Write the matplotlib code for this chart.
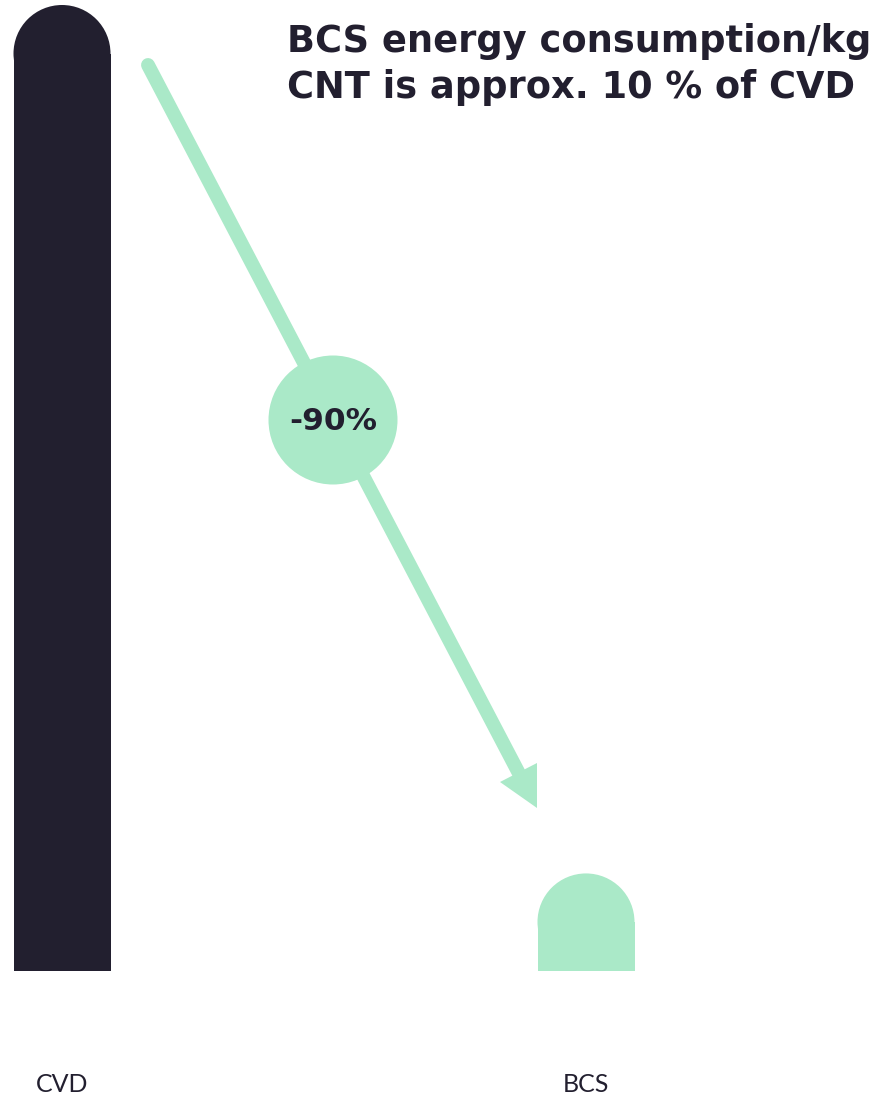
import matplotlib.pyplot as plt
from matplotlib.patches import Ellipse, Circle, Polygon

# data
categories = ["CVD", "BCS"]
values = [100, 10.1]
bar_colors = ["#221f2f", "#aae9c8"]
change_label = "-90%"
title_lines = ["BCS energy consumption/kg", "CNT is approx. 10 % of CVD"]

dark = "#221f2f"
mint = "#aae9c8"

W, H = 881, 1099
fig = plt.figure(figsize=(W / 100, H / 100), dpi=100)
ax = fig.add_axes([0, 0, 1, 1])

# map so that bar 0 centre sits at 62px, bar 1 at 586px, baseline at 971px from top
px_per_x = 586 - 62
px_per_y = 966 / 100.0
ax.set_xlim(-62 / px_per_x, (W - 62) / px_per_x)
ax.set_ylim(-(H - 971) / px_per_y, 971 / px_per_y)
ax.axis("off")

bw = 97 / px_per_x
r_y = (97 / 2) / px_per_y
for i, (v, c) in enumerate(zip(values, bar_colors)):
    ax.bar(i, v - r_y, width=bw, color=c, align="center", linewidth=0)
    ax.add_patch(Ellipse((i, v - r_y), bw, 2 * r_y, color=c, linewidth=0))
    ax.text(i, -(1085 - 971) / px_per_y, categories[i], ha="center", va="center",
            fontsize=18, color=dark, family="Lato")

# overlay in pixel coords for the arrow and the title
ov = fig.add_axes([0, 0, 1, 1], zorder=3)
ov.set_xlim(0, W)
ov.set_ylim(H, 0)
ov.axis("off")
ov.patch.set_alpha(0)

ov.plot([148, 518.5], [65, 772.5], color=mint, lw=10, solid_capstyle="round")
ov.add_patch(Polygon([(500, 782), (537, 763), (537, 808)], closed=True,
                     color=mint, linewidth=0))
ov.add_patch(Circle((333, 420), 64.5, color=mint, linewidth=0))
ov.text(333, 421, change_label, ha="center", va="center", fontsize=22.5,
        fontweight="bold", color=dark, family="DejaVu Sans")

for k, line in enumerate(title_lines):
    ov.text(287, 42 + k * 45, line, ha="left", va="center", fontsize=26.5,
            fontweight="bold", color=dark, family="DejaVu Sans")

fig.savefig("out.png", dpi=100)
